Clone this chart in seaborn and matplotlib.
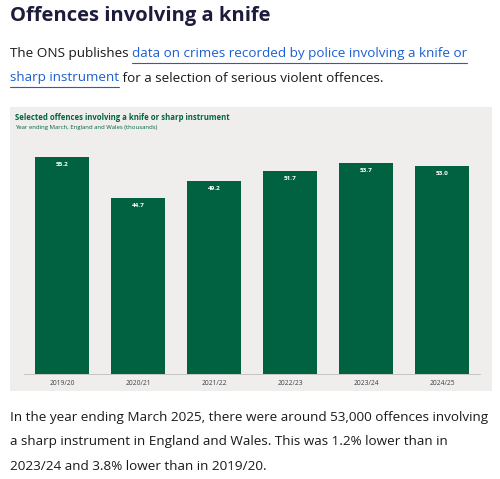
import matplotlib
matplotlib.use("Agg")
import matplotlib.pyplot as plt
import seaborn as sns
import pandas as pd
from matplotlib.patches import Rectangle
from matplotlib.lines import Line2D

years = ["2019/20", "2020/21", "2021/22", "2022/23", "2023/24", "2024/25"]
offences = [55.2, 44.7, 49.2, 51.7, 53.7, 53.0]

sns.set_theme(style="white")
plt.rcParams['font.family'] = ['Open Sans', 'DejaVu Sans']

W, H = 500, 479
fig = plt.figure(figsize=(W / 100, H / 100), dpi=100)
fig.patch.set_facecolor("white")

def fx(px):
    return px / W

def fy(py):
    return 1 - py / H

# grey panel behind the chart
fig.patches.append(Rectangle((fx(10), fy(391)), fx(482), 284 / H, transform=fig.transFigure,
                             facecolor="#efeeec", edgecolor="none", zorder=-1))

ax = fig.add_axes([fx(24), fy(374), fx(456), (374 - 135) / H])
ax.set_zorder(2)
ax.set_facecolor("none")
df = pd.DataFrame({"year": years, "value": offences})
sns.barplot(data=df, x="year", y="value", color="#006241", saturation=1, width=0.7,
            linewidth=0, ax=ax)
ax.set_ylim(0, 60.8)
ax.set_yticks([])
ax.set_xlabel("")
ax.set_ylabel("")
for s in ["top", "right", "left"]:
    ax.spines[s].set_visible(False)
ax.spines["bottom"].set_color("#bfbfbf")
ax.spines["bottom"].set_linewidth(0.6)
ax.tick_params(axis="x", labelsize=4.8, colors="#404040", length=0, pad=4)
for i, v in enumerate(offences):
    ax.text(i, v - 1.3, f"{v:.1f}", ha="center", va="top", color="white",
            fontsize=4.6, fontweight="bold")

fig.text(fx(15), fy(117), "Selected offences involving a knife or sharp instrument",
         fontsize=5.6, fontweight="bold", color="#00643f", va="center")
fig.text(fx(15), fy(128), "Year ending March, England and Wales (thousands)",
         fontsize=4.3, color="#00643f", va="center")

fig.text(fx(10), fy(16), "Offences involving a knife", fontsize=14.5, fontweight="bold",
         color="#1d1d3b", va="center")

body = "#1a1a1a"
link = "#1d5fd1"
fs = 9.7
fig.canvas.draw()
renderer = fig.canvas.get_renderer()

def run(segments, py):
    x = fx(10)
    for txt, col, ul in segments:
        t = fig.text(x, fy(py), txt, fontsize=fs, color=col, va="center")
        bb = t.get_window_extent(renderer)
        x1 = x + bb.width / W
        if ul:
            yy = fy(py + 9)
            fig.lines.append(Line2D([x, x1], [yy, yy], transform=fig.transFigure,
                                    color=col, linewidth=0.8))
        x = x1

run([("The ONS publishes ", body, False),
     ("data on crimes recorded by police involving a knife or", link, True)], 54)
run([("sharp instrument", link, True),
     (" for a selection of serious violent offences.", body, False)], 78)
run([("In the year ending March 2025, there were around 53,000 offences involving", body, False)], 418)
run([("a sharp instrument in England and Wales. This was 1.2% lower than in", body, False)], 442)
run([("2023/24 and 3.8% lower than in 2019/20.", body, False)], 466)

fig.savefig("out.png", dpi=100)
